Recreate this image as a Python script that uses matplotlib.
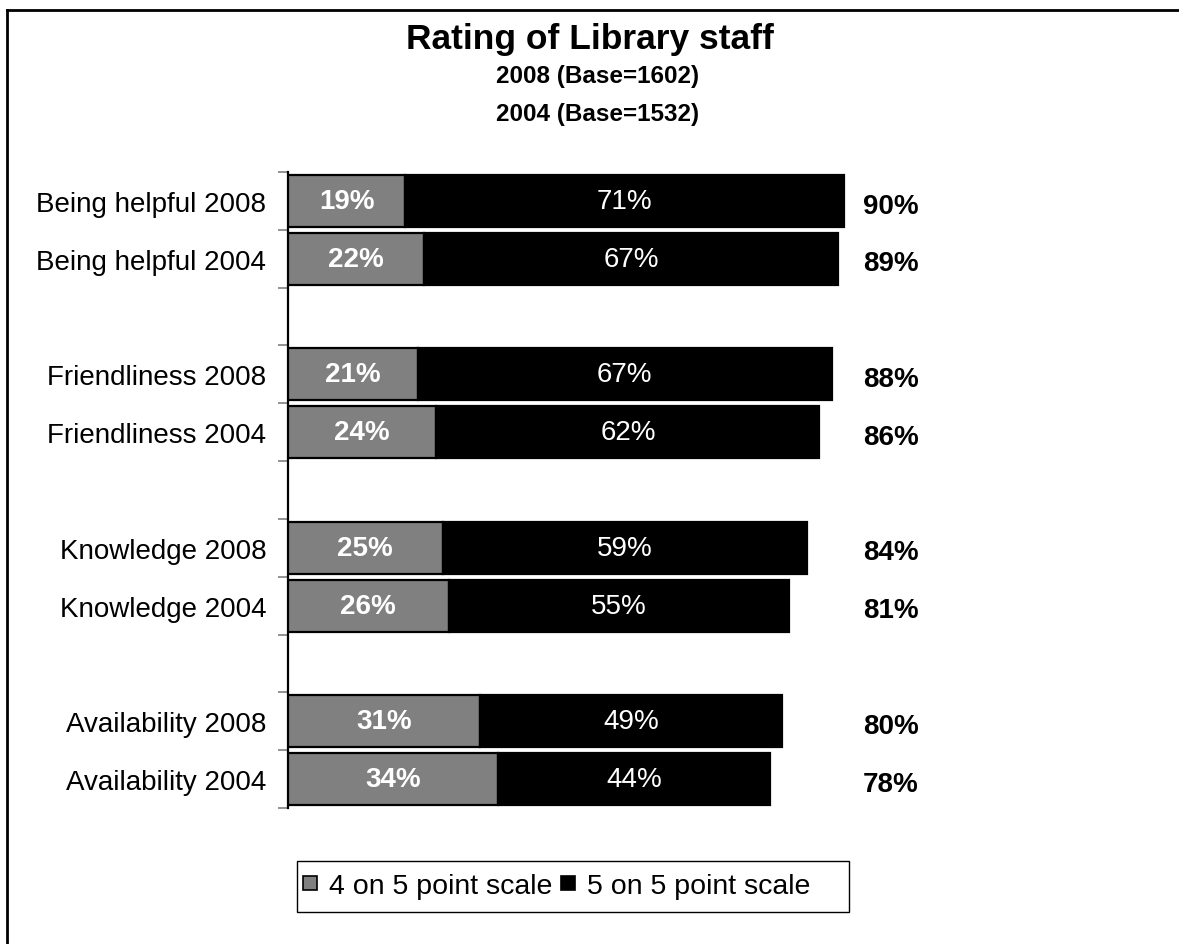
import matplotlib
matplotlib.use("Agg")
import matplotlib.pyplot as plt
from matplotlib.lines import Line2D
from matplotlib.patches import Rectangle
import numpy as np

plt.rcParams['font.family'] = ['Liberation Sans', 'DejaVu Sans']

categories = ["Being helpful", "Friendliness", "Knowledge", "Availability"]
years = ["2008", "2004"]
four_on_five = [19, 22, 21, 24, 25, 26, 31, 34]
five_on_five = [71, 67, 67, 62, 59, 55, 49, 44]
totals = [90, 89, 88, 86, 84, 81, 80, 78]

GRAY = "#808080"

W, H = 1179, 945
fig = plt.figure(figsize=(W / 100, H / 100), dpi=100)

# plot area in pixel coordinates
x0, x1 = 288, 906
y0, y1 = 173, 809
ax = fig.add_axes([x0 / W, 1 - y1 / H, (x1 - x0) / W, (y1 - y0) / H])

# two bars per group, one empty slot between groups
positions = []
labels = []
for g, cat in enumerate(categories):
    for j, yr in enumerate(years):
        positions.append(g * 3 + j)
        labels.append(f"{cat} {yr}")
positions = np.array(positions, dtype=float)

bh = 0.9
ax.barh(positions, four_on_five, height=bh, color=GRAY, edgecolor="black", linewidth=1.6,
        label="4 on 5 point scale", zorder=3)
ax.barh(positions, five_on_five, left=four_on_five, height=bh, color="black",
        edgecolor="black", linewidth=1.6, label="5 on 5 point scale", zorder=3)

FS = 20
for p, a, b, t in zip(positions, four_on_five, five_on_five, totals):
    ax.text(a / 2, p, f"{a}%", ha="center", va="center", color="white",
            fontsize=FS, fontweight="bold", zorder=4)
    ax.text(a + b / 2, p, f"{b}%", ha="center", va="center", color="white",
            fontsize=FS, zorder=4)
    ax.text(97.5, p + 0.08, f"{t}%", ha="center", va="center", color="black",
            fontsize=FS, fontweight="bold", zorder=4)

ax.set_xlim(0, 100)
ax.set_ylim(10.5, -0.5)
ax.set_yticks(positions)
ax.set_yticklabels(labels, fontsize=FS)
ax.tick_params(axis="y", which="major", length=0, pad=15.5)
ax.set_yticks(np.arange(-0.5, 11.0, 1.0), minor=True)
ax.tick_params(axis="y", which="minor", length=7, width=1.2, color="#808080")
ax.set_xticks([])
for s in ["top", "right", "bottom"]:
    ax.spines[s].set_visible(False)
ax.spines["left"].set_linewidth(1.6)

# titles
fig.text(0.5, 1 - 39 / H, "Rating of Library staff", ha="center", va="center",
         fontsize=25.5, fontweight="bold")
fig.text(598 / W, 1 - 76 / H, "2008 (Base=1602)", ha="center", va="center",
         fontsize=17.5, fontweight="bold")
fig.text(598 / W, 1 - 115 / H, "2004 (Base=1532)", ha="center", va="center",
         fontsize=17.5, fontweight="bold")

# legend entries, with the surrounding box drawn separately
handles = [Line2D([], [], linestyle="none", marker="s", markersize=10,
                  markerfacecolor=GRAY, markeredgecolor="black", markeredgewidth=1.2),
           Line2D([], [], linestyle="none", marker="s", markersize=10,
                  markerfacecolor="black", markeredgecolor="black", markeredgewidth=1.2)]
leg = fig.legend(handles, ["4 on 5 point scale", "5 on 5 point scale"], ncol=2,
                 loc="center left", bbox_to_anchor=(303 / W, 1 - 887 / H), fontsize=20.5,
                 frameon=False, handlelength=0.5, handleheight=0.7,
                 handletextpad=0.42, columnspacing=0.3, borderpad=0,
                 borderaxespad=0)
fig.add_artist(Rectangle((297 / W, 1 - 913 / H), (849 - 297) / W, (913 - 862) / H,
                         transform=fig.transFigure, facecolor="none",
                         edgecolor="black", linewidth=1.0))

# outer border (top and left edges)
fig.add_artist(Line2D([7 / W, 7 / W], [0, 1 - 11 / H], color="black", linewidth=2,
                      transform=fig.transFigure))
fig.add_artist(Line2D([7 / W, 1], [1 - 11 / H, 1 - 11 / H], color="black", linewidth=2,
                      transform=fig.transFigure))

fig.savefig("out.png", dpi=100, facecolor="white")
